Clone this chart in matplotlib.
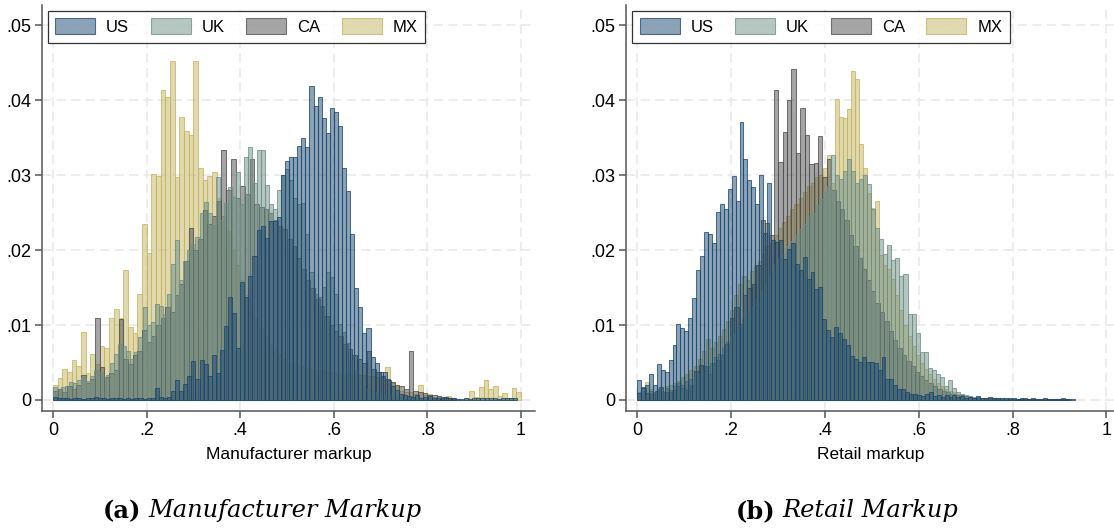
import numpy as np
import matplotlib.pyplot as plt
from matplotlib.colors import to_rgba
from matplotlib.patches import Patch

plt.rcParams['font.family'] = ['Liberation Sans', 'DejaVu Sans']

countries = ["US", "UK", "CA", "MX"]
base_colors = {"US": "#1a476f", "UK": "#6e8e84", "CA": "#4d4d4d", "MX": "#c4b560"}

# density per bin, bins start at 0 with the given width
manuf_width = {"US": 0.0087, "UK": 0.0087, "CA": 0.01, "MX": 0.01}
us_manuf = [0.0004, 0.0002, 0.0002, 0.0003, 0.0001, 0.0002, 0.0002, 0.0001, 0.0002, 0.0003,
            0.0004, 0.0002, 0.0002, 0.0001, 0.0003, 0.0002, 0.0002, 0.0001, 0.0002, 0.0001,
            0.0002, 0.0002, 0.0001, 0.0002, 0.0003, 0.0016, 0.0004, 0.0003, 0.0004, 0.0012,
            0.0027, 0.0012, 0.0021, 0.0032, 0.0052, 0.0028, 0.0053, 0.0048, 0.0032, 0.0060,
            0.0036, 0.0067, 0.0099, 0.0138, 0.0116, 0.0070, 0.0158, 0.0138, 0.0165, 0.0192,
            0.0227, 0.0232, 0.0216, 0.0239, 0.0239, 0.0244, 0.0300, 0.0319, 0.0324, 0.0324,
            0.0339, 0.0349, 0.0337, 0.0419, 0.0392, 0.0404, 0.0376, 0.0356, 0.0390, 0.0384,
            0.0366, 0.0309, 0.0279, 0.0222, 0.0150, 0.0124, 0.0089, 0.0096, 0.0057, 0.0049,
            0.0038, 0.0038, 0.0027, 0.0018, 0.0013, 0.0008, 0.0007, 0.0005, 0.0004, 0.0006,
            0.0003, 0.0004, 0.0005, 0.0003, 0.0002, 0.0003, 0.0004, 0.0002, 0.0003, 0.0001,
            0.0001, 0.0002, 0.0001, 0.0003, 0.0002, 0.0002, 0.0003, 0.0002, 0.0002, 0.0001,
            0.0002, 0.0003, 0.0002, 0.0002]
uk_manuf = [0.0017, 0.0014, 0.0017, 0.0018, 0.0024, 0.0022, 0.0026, 0.0030, 0.0025, 0.0032,
            0.0040, 0.0038, 0.0030, 0.0033, 0.0049, 0.0062, 0.0075, 0.0072, 0.0065, 0.0055,
            0.0064, 0.0084, 0.0124, 0.0100, 0.0104, 0.0128, 0.0125, 0.0115, 0.0142, 0.0181,
            0.0214, 0.0160, 0.0186, 0.0200, 0.0208, 0.0217, 0.0249, 0.0264, 0.0249, 0.0233,
            0.0297, 0.0240, 0.0263, 0.0284, 0.0271, 0.0304, 0.0262, 0.0324, 0.0337, 0.0290,
            0.0333, 0.0333, 0.0287, 0.0262, 0.0255, 0.0280, 0.0300, 0.0308, 0.0293, 0.0270,
            0.0262, 0.0263, 0.0221, 0.0171, 0.0142, 0.0138, 0.0151, 0.0171, 0.0164, 0.0142,
            0.0102, 0.0091, 0.0076, 0.0053, 0.0040, 0.0024, 0.0018, 0.0015, 0.0012, 0.0010,
            0.0008, 0.0007, 0.0006, 0.0005, 0.0004, 0.0003, 0.0003, 0.0002, 0.0002, 0.0001]
ca_manuf = [0.0012, 0.0015, 0.0010, 0.0018, 0.0014, 0.0020, 0.0033, 0.0022, 0.0028, 0.0110,
            0.0044, 0.0030, 0.0036, 0.0040, 0.0108, 0.0055, 0.0048, 0.0060, 0.0065, 0.0094,
            0.0078, 0.0085, 0.0100, 0.0110, 0.0124, 0.0118, 0.0140, 0.0155, 0.0186, 0.0230,
            0.0200, 0.0215, 0.0254, 0.0235, 0.0245, 0.0265, 0.0334, 0.0280, 0.0322, 0.0270,
            0.0285, 0.0275, 0.0321, 0.0262, 0.0258, 0.0255, 0.0250, 0.0240, 0.0232, 0.0228,
            0.0215, 0.0205, 0.0190, 0.0175, 0.0160, 0.0150, 0.0135, 0.0125, 0.0112, 0.0100,
            0.0092, 0.0085, 0.0075, 0.0068, 0.0060, 0.0055, 0.0050, 0.0065, 0.0042, 0.0038,
            0.0032, 0.0028, 0.0024, 0.0020, 0.0018, 0.0015, 0.0066, 0.0012, 0.0010, 0.0009,
            0.0007, 0.0006, 0.0005, 0.0004, 0.0003, 0.0002]
mx_manuf = [0.0020, 0.0029, 0.0042, 0.0038, 0.0054, 0.0045, 0.0091, 0.0036, 0.0062, 0.0048,
            0.0072, 0.0070, 0.0109, 0.0121, 0.0110, 0.0174, 0.0097, 0.0089, 0.0141, 0.0235,
            0.0196, 0.0301, 0.0299, 0.0413, 0.0404, 0.0452, 0.0297, 0.0377, 0.0359, 0.0353,
            0.0452, 0.0309, 0.0293, 0.0299, 0.0304, 0.0270, 0.0245, 0.0225, 0.0200, 0.0180,
            0.0160, 0.0140, 0.0125, 0.0110, 0.0095, 0.0085, 0.0075, 0.0068, 0.0060, 0.0055,
            0.0050, 0.0048, 0.0046, 0.0045, 0.0043, 0.0042, 0.0040, 0.0040, 0.0038, 0.0037,
            0.0036, 0.0035, 0.0035, 0.0034, 0.0034, 0.0033, 0.0033, 0.0032, 0.0032, 0.0030,
            0.0030, 0.0044, 0.0023, 0.0020, 0.0012, 0.0011, 0.0010, 0.0008, 0.0020, 0.0006,
            0.0008, 0.0004, 0.0005, 0.0002, 0.0005, 0.0003, 0.0001, 0.0000, 0.0002, 0.0012,
            0.0004, 0.0017, 0.0027, 0.0014, 0.0019, 0.0005, 0.0009, 0.0003, 0.0016, 0.0010]

retail_width = {"US": 0.0084, "UK": 0.0086, "CA": 0.0094, "MX": 0.0086}
us_retail = [0.0027, 0.0017, 0.0020, 0.0035, 0.0020, 0.0048, 0.0040, 0.0038, 0.0053, 0.0073,
             0.0101, 0.0096, 0.0092, 0.0110, 0.0136, 0.0174, 0.0192, 0.0224, 0.0221, 0.0209,
             0.0251, 0.0262, 0.0255, 0.0282, 0.0299, 0.0265, 0.0371, 0.0321, 0.0294, 0.0284,
             0.0261, 0.0300, 0.0223, 0.0290, 0.0213, 0.0211, 0.0213, 0.0188, 0.0202, 0.0209,
             0.0182, 0.0174, 0.0191, 0.0162, 0.0171, 0.0148, 0.0151, 0.0108, 0.0093, 0.0084,
             0.0097, 0.0089, 0.0082, 0.0074, 0.0059, 0.0055, 0.0051, 0.0058, 0.0051, 0.0051,
             0.0050, 0.0040, 0.0057, 0.0028, 0.0028, 0.0020, 0.0014, 0.0014, 0.0010, 0.0008,
             0.0008, 0.0007, 0.0005, 0.0008, 0.0010, 0.0005, 0.0007, 0.0004, 0.0007, 0.0004,
             0.0007, 0.0004, 0.0005, 0.0003, 0.0004, 0.0002, 0.0005, 0.0003, 0.0003, 0.0004,
             0.0002, 0.0003, 0.0002, 0.0002, 0.0003, 0.0002, 0.0001, 0.0002, 0.0002, 0.0001,
             0.0002, 0.0001, 0.0001, 0.0002, 0.0001, 0.0001, 0.0001, 0.0001, 0.0001, 0.0001,
             0.0001]
uk_retail = [0.0008, 0.0010, 0.0006, 0.0012, 0.0009, 0.0014, 0.0010, 0.0016, 0.0013, 0.0018,
             0.0022, 0.0020, 0.0025, 0.0028, 0.0030, 0.0034, 0.0040, 0.0045, 0.0050, 0.0058,
             0.0062, 0.0070, 0.0078, 0.0085, 0.0090, 0.0100, 0.0108, 0.0118, 0.0125, 0.0135,
             0.0145, 0.0155, 0.0165, 0.0172, 0.0182, 0.0190, 0.0195, 0.0205, 0.0212, 0.0220,
             0.0228, 0.0235, 0.0245, 0.0250, 0.0260, 0.0268, 0.0278, 0.0285, 0.0327, 0.0300,
             0.0295, 0.0305, 0.0322, 0.0305, 0.0290, 0.0295, 0.0300, 0.0288, 0.0255, 0.0230,
             0.0215, 0.0195, 0.0207, 0.0187, 0.0189, 0.0165, 0.0168, 0.0115, 0.0115, 0.0089,
             0.0064, 0.0064, 0.0043, 0.0040, 0.0035, 0.0030, 0.0018, 0.0026, 0.0016, 0.0010,
             0.0008, 0.0006, 0.0005, 0.0004, 0.0004, 0.0003, 0.0003, 0.0002, 0.0002, 0.0002,
             0.0001, 0.0001]
ca_retail = [0.0009, 0.0016, 0.0009, 0.0008, 0.0012, 0.0017, 0.0011, 0.0010, 0.0013, 0.0019,
             0.0016, 0.0013, 0.0020, 0.0039, 0.0047, 0.0045, 0.0035, 0.0050, 0.0053, 0.0060,
             0.0075, 0.0110, 0.0124, 0.0101, 0.0140, 0.0150, 0.0155, 0.0180, 0.0240, 0.0236,
             0.0220, 0.0413, 0.0317, 0.0357, 0.0400, 0.0442, 0.0329, 0.0389, 0.0353, 0.0315,
             0.0316, 0.0352, 0.0297, 0.0321, 0.0280, 0.0265, 0.0255, 0.0240, 0.0220, 0.0205,
             0.0190, 0.0175, 0.0160, 0.0145, 0.0130, 0.0118, 0.0105, 0.0092, 0.0080, 0.0070,
             0.0060, 0.0052, 0.0045, 0.0038, 0.0032, 0.0027, 0.0022, 0.0018, 0.0015, 0.0012,
             0.0010, 0.0008, 0.0007, 0.0006, 0.0005, 0.0004, 0.0003, 0.0003, 0.0002, 0.0002,
             0.0002, 0.0001, 0.0001, 0.0001, 0.0001, 0.0001, 0.0001, 0.0001, 0.0001, 0.0001,
             0.0001, 0.0001, 0.0001, 0.0001, 0.0001, 0.0001, 0.0003, 0.0001]
mx_retail = [0.0010, 0.0012, 0.0024, 0.0015, 0.0010, 0.0015, 0.0012, 0.0018, 0.0020, 0.0022,
             0.0025, 0.0030, 0.0035, 0.0040, 0.0045, 0.0055, 0.0065, 0.0082, 0.0070, 0.0078,
             0.0085, 0.0095, 0.0105, 0.0120, 0.0140, 0.0155, 0.0165, 0.0160, 0.0172, 0.0180,
             0.0185, 0.0195, 0.0205, 0.0210, 0.0220, 0.0230, 0.0238, 0.0245, 0.0255, 0.0262,
             0.0270, 0.0278, 0.0285, 0.0290, 0.0297, 0.0300, 0.0310, 0.0327, 0.0290, 0.0402,
             0.0377, 0.0376, 0.0388, 0.0439, 0.0428, 0.0342, 0.0310, 0.0276, 0.0256, 0.0266,
             0.0193, 0.0180, 0.0175, 0.0162, 0.0140, 0.0120, 0.0100, 0.0085, 0.0072, 0.0060,
             0.0050, 0.0042, 0.0035, 0.0028, 0.0022, 0.0018, 0.0015, 0.0012, 0.0010, 0.0008,
             0.0006, 0.0005, 0.0004, 0.0003, 0.0003, 0.0002, 0.0002, 0.0002, 0.0001, 0.0001,
             0.0001]

manuf = {"US": us_manuf, "UK": uk_manuf, "CA": ca_manuf, "MX": mx_manuf}
retail = {"US": us_retail, "UK": uk_retail, "CA": ca_retail, "MX": mx_retail}

x_ticks = [0, 0.2, 0.4, 0.6, 0.8, 1.0]
x_tick_labels = ["0", ".2", ".4", ".6", ".8", "1"]
y_ticks = [0, 0.01, 0.02, 0.03, 0.04, 0.05]
y_tick_labels = ["0", ".01", ".02", ".03", ".04", ".05"]

W, H = 1114, 529
fig = plt.figure(figsize=(W / 100, H / 100), dpi=100)


def px_axes(left, right, top, bottom):
    return fig.add_axes([left / W, 1 - bottom / H, (right - left) / W, (bottom - top) / H])


def draw_panel(ax, dens, widths, xlim, xlabel):
    # draw order puts US on top of the other three
    for c in ["MX", "CA", "UK", "US"]:
        vals = np.array(dens[c])
        edges = np.arange(len(vals)) * widths[c]
        col = base_colors[c]
        ax.bar(edges, vals, width=widths[c], align="edge",
               facecolor=to_rgba(col, 0.5), edgecolor=to_rgba(col, 0.75),
               linewidth=0.75, zorder=2)
    ax.set_xlim(*xlim)
    ax.set_ylim(-0.00147, 0.0527)
    ax.set_xticks(x_ticks, x_tick_labels)
    ax.set_yticks(y_ticks, y_tick_labels)
    ax.tick_params(labelsize=13, length=5, width=1.1, color="#555555", pad=3)
    for s in ["top", "right"]:
        ax.spines[s].set_visible(False)
    for s in ["left", "bottom"]:
        ax.spines[s].set_color("#555555")
        ax.spines[s].set_linewidth(1.1)
    ax.grid(True, color="#e8e8e8", linewidth=1.1, linestyle=(0, (6, 3.5)), zorder=0)
    ax.set_axisbelow(True)
    ax.set_xlabel(xlabel, fontsize=12.5, labelpad=6)
    handles = [Patch(facecolor=to_rgba(base_colors[c], 0.5),
                     edgecolor=to_rgba(base_colors[c], 0.75), linewidth=0.8)
               for c in countries]
    leg = ax.legend(handles, countries, loc="upper left", ncol=4, fontsize=12,
                    frameon=True, fancybox=False, edgecolor="black",
                    handlelength=2.4, handleheight=1.1, handletextpad=0.65,
                    columnspacing=1.3, borderpad=0.45, borderaxespad=0.35)
    leg.get_frame().set_linewidth(0.9)


ax1 = px_axes(42, 535, 5, 411)
draw_panel(ax1, manuf, manuf_width, (-0.0235, 1.03), "Manufacturer markup")

ax2 = px_axes(626.4, 1114, 5, 411)
draw_panel(ax2, retail, retail_width, (-0.0226, 1.016), "Retail markup")

cap_y = 1 - 511 / H
cap_size = 17.4
fig.text(141 / W, cap_y, "(a)", fontsize=cap_size, fontweight="bold", family="DejaVu Serif",
         ha="right", va="center")
fig.text(148 / W, cap_y, "Manufacturer Markup", fontsize=cap_size, style="italic",
         family="DejaVu Serif", ha="left", va="center")
fig.text(775 / W, cap_y, "(b)", fontsize=cap_size, fontweight="bold", family="DejaVu Serif",
         ha="right", va="center")
fig.text(782 / W, cap_y, "Retail Markup", fontsize=cap_size, style="italic",
         family="DejaVu Serif", ha="left", va="center")

fig.savefig("out.png", dpi=100)
